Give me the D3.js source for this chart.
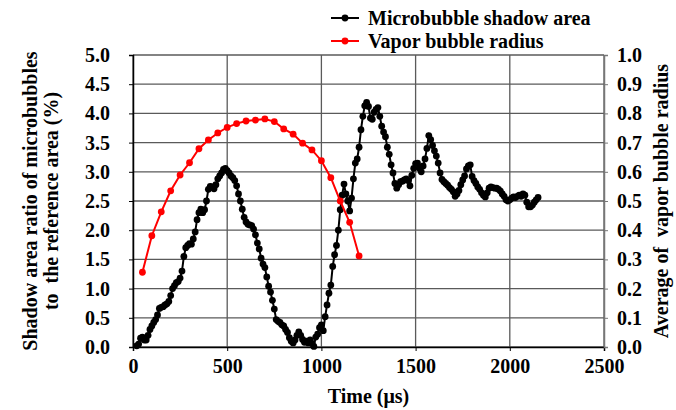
<!DOCTYPE html>
<html lang="en">
<head>
	<meta charset="utf-8">
	<script src="https://d3js.org/d3.v7.min.js"></script>
	<style>
		body { margin: 0; background: #fff; }
		text { font-family: "Liberation Serif", "Times New Roman", serif; font-weight: bold; fill: #000; }
	</style>
</head>
<body>
<div id="chart"></div>
<script>
	// Microbubble shadow area ratio (%), sampled every 10 us
	var shadowTime = [
		20, 30, 40, 50, 60, 70, 80, 90,
		100, 110, 120, 130, 140, 150, 160, 170, 180, 190,
		200, 210, 220, 230, 240, 250, 260, 270, 280, 290,
		300, 310, 320, 330, 340, 350, 360, 370, 380, 390,
		400, 410, 420, 430, 440, 450, 460, 470, 480, 490,
		500, 510, 520, 530, 540, 550, 560, 570, 580, 590,
		600, 610, 620, 630, 640, 650, 660, 670, 680, 690,
		700, 710, 720, 730, 740, 750, 760, 770, 780, 790,
		800, 810, 820, 830, 840, 850, 860, 870, 880, 890,
		900, 910, 920, 930, 940, 950, 960, 970, 980, 990,
		1000, 1010, 1020, 1030, 1040, 1050, 1060, 1070, 1080, 1090,
		1100, 1110, 1120, 1130, 1140, 1150, 1160, 1170, 1180, 1190,
		1200, 1210, 1220, 1230, 1240, 1250, 1260, 1270, 1280, 1290,
		1300, 1310, 1320, 1330, 1340, 1350, 1360, 1370, 1380, 1390,
		1400, 1410, 1420, 1430, 1440, 1450, 1460, 1470, 1480, 1490,
		1500, 1510, 1520, 1530, 1540, 1550, 1560, 1570, 1580, 1590,
		1600, 1610, 1620, 1630, 1640, 1650, 1660, 1670, 1680, 1690,
		1700, 1710, 1720, 1730, 1740, 1750, 1760, 1770, 1780, 1790,
		1800, 1810, 1820, 1830, 1840, 1850, 1860, 1870, 1880, 1890,
		1900, 1910, 1920, 1930, 1940, 1950, 1960, 1970, 1980, 1990,
		2000, 2010, 2020, 2030, 2040, 2050, 2060, 2070, 2080, 2090,
		2100, 2110, 2120, 2130, 2140, 2150
	];
	var shadowArea = [
		0.02, 0.05, 0.15, 0.17, 0.12, 0.12, 0.20, 0.30,
		0.36, 0.42, 0.47, 0.55, 0.66, 0.68, 0.69, 0.72, 0.74, 0.78,
		0.88, 1.00, 1.05, 1.10, 1.12, 1.18, 1.30, 1.55, 1.70, 1.74,
		1.77, 1.76, 1.85, 1.97, 2.18, 2.30, 2.36, 2.30, 2.35, 2.50,
		2.70, 2.75, 2.74, 2.71, 2.78, 2.88, 2.93, 2.98, 3.04, 3.06,
		3.02, 2.98, 2.93, 2.90, 2.85, 2.76, 2.62, 2.50, 2.36, 2.22,
		2.14, 2.10, 2.09, 2.08, 2.02, 1.92, 1.78, 1.68, 1.52, 1.42,
		1.36, 1.20, 1.04, 0.94, 0.80, 0.65, 0.47, 0.44, 0.42, 0.38,
		0.36, 0.30, 0.25, 0.16, 0.10, 0.07, 0.12, 0.20, 0.26, 0.20,
		0.13, 0.08, 0.10, 0.07, 0.12, 0.06, 0.01, 0.17, 0.22, 0.33,
		0.38, 0.28, 0.52, 0.72, 0.92, 1.06, 1.38, 1.58, 1.74, 2.00,
		2.35, 2.60, 2.79, 2.62, 2.50, 2.33, 2.55, 2.88, 3.15, 3.22,
		3.42, 3.72, 3.95, 4.13, 4.19, 4.12, 3.92, 3.90, 4.02, 4.07,
		4.10, 3.95, 3.78, 3.68, 3.60, 3.42, 3.30, 3.12, 2.98, 2.80,
		2.72, 2.78, 2.83, 2.84, 2.86, 2.88, 2.85, 2.76, 2.94, 3.06,
		3.14, 3.15, 3.06, 3.00, 3.10, 3.22, 3.40, 3.62, 3.55, 3.45,
		3.36, 3.27, 3.15, 2.98, 2.87, 2.83, 2.80, 2.77, 2.73, 2.70,
		2.66, 2.58, 2.62, 2.68, 2.78, 2.86, 2.93, 3.05, 3.10, 3.12,
		2.92, 2.85, 2.80, 2.74, 2.70, 2.64, 2.60, 2.57, 2.64, 2.72,
		2.74, 2.73, 2.72, 2.72, 2.70, 2.67, 2.62, 2.58, 2.52, 2.50,
		2.52, 2.55, 2.57, 2.56, 2.58, 2.60, 2.58, 2.62, 2.60, 2.48,
		2.40, 2.40, 2.43, 2.48, 2.52, 2.56
	];

	// Average vapor bubble radius (secondary axis), every 50 us
	var radiusTime = [50, 100, 150, 200, 250, 300, 350, 400, 450, 500, 550, 600,
		650, 700, 750, 800, 850, 900, 950, 1000, 1050, 1100, 1150, 1200];
	var radiusValue = [0.256, 0.381, 0.463, 0.535, 0.589, 0.631, 0.679, 0.709, 0.733, 0.752, 0.765, 0.774,
		0.777, 0.781, 0.772, 0.747, 0.729, 0.698, 0.675, 0.638, 0.580, 0.500, 0.427, 0.312];

	var xTicks = [0, 500, 1000, 1500, 2000, 2500];
	var yLeftTicks = [0, 0.5, 1, 1.5, 2, 2.5, 3, 3.5, 4, 4.5, 5];
	var yRightTicks = [0, 0.1, 0.2, 0.3, 0.4, 0.5, 0.6, 0.7, 0.8, 0.9, 1];

	var w = 676, h = 410;
	var plotLeft = 133, plotRight = 604, plotTop = 55, plotBottom = 347;

	var x = d3.scaleLinear().domain([0, 2500]).range([plotLeft, plotRight]);
	var yL = d3.scaleLinear().domain([0, 5]).range([plotBottom, plotTop]);
	var yR = d3.scaleLinear().domain([0, 1]).range([plotBottom, plotTop]);

	var svg = d3.select("#chart").append("svg")
		.attr("width", w)
		.attr("height", h);

	// grid
	svg.append("g").selectAll("line").data(yLeftTicks).enter().append("line")
		.attr("x1", plotLeft).attr("x2", plotRight)
		.attr("y1", function(d){ return yL(d); })
		.attr("y2", function(d){ return yL(d); })
		.attr("stroke", "#5a5a5a").attr("stroke-width", 1.3);
	svg.append("g").selectAll("line").data(xTicks).enter().append("line")
		.attr("x1", function(d){ return x(d); })
		.attr("x2", function(d){ return x(d); })
		.attr("y1", plotTop).attr("y2", plotBottom)
		.attr("stroke", "#5a5a5a").attr("stroke-width", 1.3);

	// axes
	var xAxis = svg.append("g")
		.attr("transform", "translate(0," + plotBottom + ")")
		.call(d3.axisBottom(x).tickValues(xTicks).tickSize(4).tickPadding(8).tickFormat(d3.format("d")));
	var yAxisL = svg.append("g")
		.attr("transform", "translate(" + plotLeft + ",0)")
		.call(d3.axisLeft(yL).tickValues(yLeftTicks).tickSize(4).tickPadding(19).tickFormat(d3.format(".1f")));
	var yAxisR = svg.append("g")
		.attr("transform", "translate(" + plotRight + ",0)")
		.call(d3.axisRight(yR).tickValues(yRightTicks).tickSize(4).tickPadding(9).tickFormat(d3.format(".1f")));

	[xAxis, yAxisL, yAxisR].forEach(function(a){
		a.selectAll("text").style("font-size", "20px").style("font-family", "'Liberation Serif', serif").style("font-weight", "bold");
		a.select(".domain").attr("stroke-width", 1.5);
	});
	xAxis.select(".domain").attr("stroke", "#000");
	yAxisL.select(".domain").attr("stroke", "#000");
	yAxisR.select(".domain").attr("stroke", "#777");
	yAxisR.selectAll(".tick line").attr("stroke", "#777");

	// black series
	var shadow = shadowTime.map(function(t, i){ return [t, shadowArea[i]]; });
	svg.append("path")
		.datum(shadow)
		.attr("fill", "none").attr("stroke", "#000").attr("stroke-width", 2)
		.attr("d", d3.line().x(function(d){ return x(d[0]); }).y(function(d){ return yL(d[1]); }));
	svg.append("g").selectAll("circle").data(shadow).enter().append("circle")
		.attr("cx", function(d){ return x(d[0]); })
		.attr("cy", function(d){ return yL(d[1]); })
		.attr("r", 3.4).attr("fill", "#000");

	// red series on secondary axis
	var radius = radiusTime.map(function(t, i){ return [t, radiusValue[i]]; });
	svg.append("path")
		.datum(radius)
		.attr("fill", "none").attr("stroke", "#ff0000").attr("stroke-width", 2)
		.attr("d", d3.line().x(function(d){ return x(d[0]); }).y(function(d){ return yR(d[1]); }));
	svg.append("g").selectAll("circle").data(radius).enter().append("circle")
		.attr("cx", function(d){ return x(d[0]); })
		.attr("cy", function(d){ return yR(d[1]); })
		.attr("r", 3.4).attr("fill", "#ff0000");

	// axis titles
	svg.append("text")
		.attr("x", (plotLeft + plotRight) / 2).attr("y", 403)
		.attr("text-anchor", "middle").style("font-size", "20px")
		.text("Time (\u03bcs)");
	svg.append("text")
		.attr("transform", "translate(37," + ((plotTop + plotBottom) / 2) + ") rotate(-90)")
		.attr("text-anchor", "middle").style("font-size", "20px")
		.text("Shadow area ratio of microbubbles");
	svg.append("text")
		.attr("transform", "translate(58," + ((plotTop + plotBottom) / 2) + ") rotate(-90)")
		.attr("text-anchor", "middle").style("font-size", "20px")
		.attr("xml:space", "preserve")
		.text("to  the reference area (%)");
	svg.append("text")
		.attr("transform", "translate(668," + ((plotTop + plotBottom) / 2) + ") rotate(-90)")
		.attr("text-anchor", "middle").style("font-size", "20px")
		.attr("xml:space", "preserve")
		.text("Average of  vapor bubble radius");

	// legend
	var legend = [
		{ name: "Microbubble shadow area", color: "#000", y: 18 },
		{ name: "Vapor bubble radius", color: "#ff0000", y: 41 }
	];
	var lg = svg.append("g").selectAll("g").data(legend).enter().append("g");
	lg.append("line")
		.attr("x1", 331).attr("x2", 359)
		.attr("y1", function(d){ return d.y; }).attr("y2", function(d){ return d.y; })
		.attr("stroke", function(d){ return d.color; }).attr("stroke-width", 2);
	lg.append("circle")
		.attr("cx", 345).attr("cy", function(d){ return d.y; })
		.attr("r", 3.4).attr("fill", function(d){ return d.color; });
	lg.append("text")
		.attr("x", 368).attr("y", function(d){ return d.y + 7; })
		.style("font-size", "20px")
		.text(function(d){ return d.name; });
</script>
</body>
</html>
